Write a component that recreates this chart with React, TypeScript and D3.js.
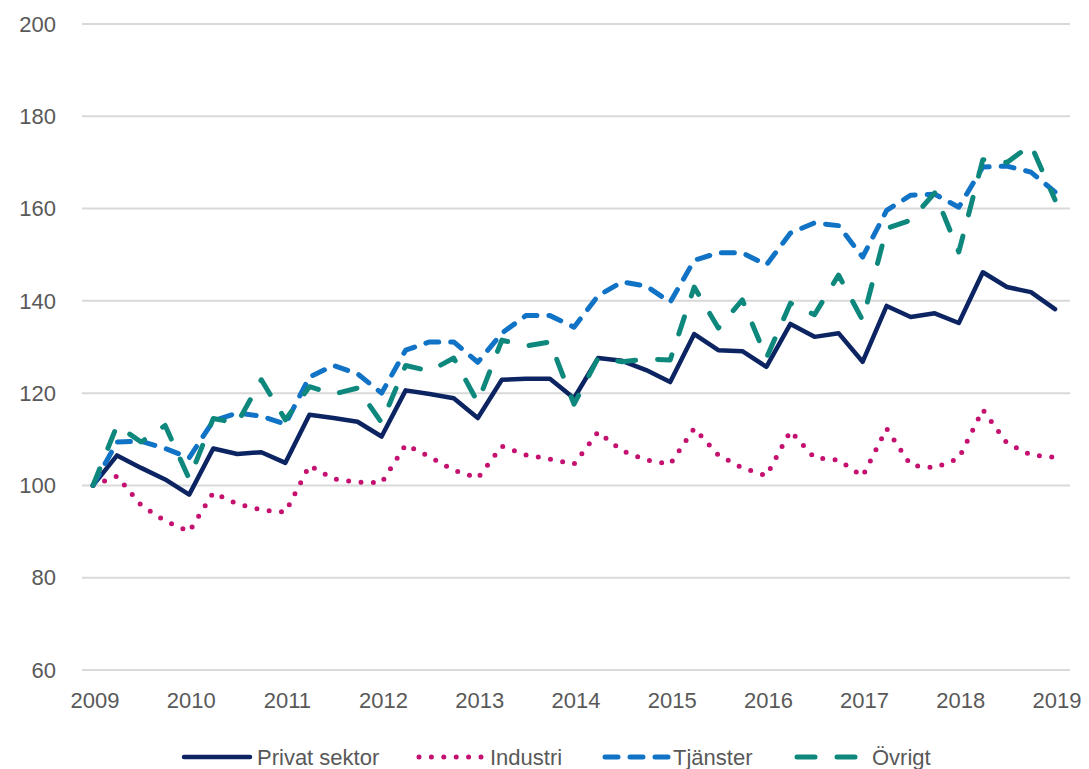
import React from "react";
import * as d3 from "d3";

// Quarterly index, 2009 = 100
const years = ["2009", "2010", "2011", "2012", "2013", "2014", "2015", "2016", "2017", "2018", "2019"];
const yTicks = [60, 80, 100, 120, 140, 160, 180, 200];

const privat = [
  100, 106.5, 103.8, 101.3, 98, 108, 106.8, 107.2, 104.9, 115.3, 114.6, 113.8, 110.6, 120.6, 119.8, 118.9, 114.6,
  122.9, 123.1, 123.1, 118.9, 127.6, 127, 125, 122.4, 132.8, 129.3, 129.1, 125.7, 135, 132.2, 133, 126.8, 138.9,
  136.5, 137.3, 135.2, 146.2, 143, 141.9, 138.2,
];
const industri = [
  100, 102, 95.7, 92.3, 90, 98.4, 96, 94.7, 94.2, 104.3, 101.4, 100.7, 100.6, 108.8, 106.2, 103.3, 101.6, 108.5,
  106.6, 105.7, 104.6, 111.6, 107.5, 105.5, 104.6, 112.4, 106.6, 103.8, 102.1, 111.8, 106, 105.5, 102, 112.3, 104.4,
  103.8, 105.9, 116.4, 109.2, 106.6, 106.1,
];
const tjanster = [
  100, 109.4, 109.6, 108, 106, 114, 115.7, 115, 113.3, 123.5, 126, 124.2, 120, 129.3, 131.1, 131.1, 126.7, 133,
  136.8, 136.8, 134.3, 141.1, 144.1, 143.2, 139.7, 148.8, 150.4, 150.4, 147.8, 154.7, 156.9, 156.3, 149.5, 159.6,
  162.9, 163.1, 160.3, 169, 169.2, 167.9, 163.6,
];
const ovrigt = [
  100, 113, 109.4, 113, 101.4, 114.5, 113.5, 122.9, 114.2, 121.4, 119.8, 121.1, 113.6, 126, 124.8, 127.6, 118,
  131.5, 130.2, 131.1, 117.6, 127.6, 126.8, 127.4, 127.2, 143, 134.1, 140.2, 127.6, 139.5, 137, 145.6, 135.8, 155.7,
  157.5, 163.4, 150.6, 170.6, 170, 173.8, 161.9,
];

const seriesNames = ["Privat sektor", "Industri", "Tjänster", "Övrigt"];
const seriesData = [privat, industri, tjanster, ovrigt];
const seriesStyle = [
  { color: "#0c2461", width: 4.5, dash: null },
  { color: "#c4106f", width: 5, dash: "0 12.4" },
  { color: "#1173c5", width: 5, dash: "13 12" },
  { color: "#0e877c", width: 5, dash: "18 22" },
];

const W = 1089;
const H = 769;
const FONT = "'Liberation Sans', Arial, sans-serif";

export default function App() {
  const x = d3.scaleLinear().domain([0, privat.length - 1]).range([93, 1055]);
  const y = d3.scaleLinear().domain([60, 200]).range([670, 24]);
  const line = d3
    .line<number>()
    .x((_, i) => x(i))
    .y((d) => y(d));

  // legend layout: marker start, marker end, text start
  const legend = [
    [182, 252, 257],
    [417, 485, 490],
    [603, 670, 673],
    [795, 863, 872],
  ];
  const legendY = 757;

  return (
    <div style={{ position: "absolute", left: 0, top: 0 }}>
      <svg width={W} height={H} style={{ display: "block", background: "#fff" }} fontFamily={FONT}>
        {yTicks.map((t) => (
          <g key={t}>
            <line x1={82} x2={1070} y1={y(t)} y2={y(t)} stroke="#d9d9d9" strokeWidth={2} />
            <text x={56} y={y(t)} dy="0.35em" textAnchor="end" fontSize={22} fill="#595959">
              {t}
            </text>
          </g>
        ))}
        {years.map((yr, i) => (
          <text key={yr} x={x(i * 4) + 2} y={708} textAnchor="middle" fontSize={22} fill="#595959">
            {yr}
          </text>
        ))}
        {seriesData.map((d, k) => (
          <path
            key={seriesNames[k]}
            d={line(d) || ""}
            fill="none"
            stroke={seriesStyle[k].color}
            strokeWidth={seriesStyle[k].width}
            strokeDasharray={seriesStyle[k].dash || undefined}
            strokeLinecap="round"
            strokeLinejoin="round"
          />
        ))}
        {seriesNames.map((name, k) => (
          <g key={name}>
            <line
              x1={legend[k][0] + 2}
              x2={legend[k][1] - 2}
              y1={legendY}
              y2={legendY}
              stroke={seriesStyle[k].color}
              strokeWidth={seriesStyle[k].width}
              strokeDasharray={seriesStyle[k].dash || undefined}
              strokeLinecap="round"
            />
            <text x={legend[k][2]} y={legendY} dy="0.35em" fontSize={22} fill="#595959">
              {name}
            </text>
          </g>
        ))}
      </svg>
    </div>
  );
}
